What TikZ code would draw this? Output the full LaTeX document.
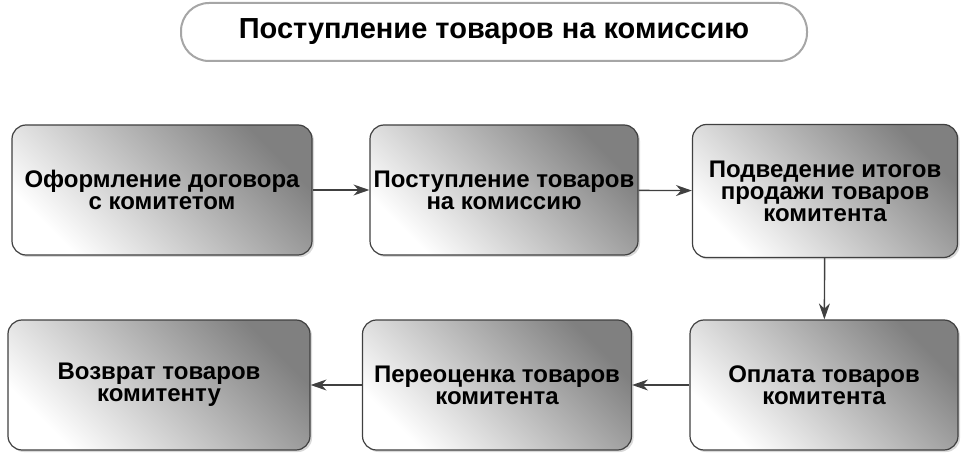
\documentclass[tikz,border=0pt]{standalone}
\usepackage{fontspec}
\setmainfont{Liberation Sans}
\usetikzlibrary{shadows,arrows.meta}
\tikzset{
  stage/.style={draw=black!75, line width=1.2pt, rounded corners=14pt,
    left color=white, middle color=white, right color=black!50, shading angle=135,
    drop shadow={shadow xshift=2pt, shadow yshift=-2pt, opacity=0.3},
    font=\bfseries\fontsize{24}{22}\selectfont, align=center},
  link/.style={-{Stealth[length=16pt,width=11pt]}, draw=black!75, line width=1.4pt}
}
\begin{document}
\begin{tikzpicture}[x=1pt, y=-1pt]
  \useasboundingbox (0,0) rectangle (972,465);

  \node (title) [draw=black!35, line width=2pt, rounded corners=28pt, fill=white,
    minimum width=626pt, minimum height=58pt,
    font=\bfseries\fontsize{29}{30}\selectfont] at (494,32) {Поступление товаров на комиссию};

  \node (contract) [stage, minimum width=300pt, minimum height=130pt] at (162,190) {Оформление договора\\с комитетом};
  \node (receipt) [stage, minimum width=268pt, minimum height=130pt] at (504,190) {Поступление товаров\\на комиссию};
  \node (totals) [stage, minimum width=265pt, minimum height=133pt] at (825,191) {Подведение итогов\\продажи товаров\\комитента};
  \node (payment) [stage, minimum width=268pt, minimum height=130pt] at (824,385) {Оплата товаров\\комитента};
  \node (reval) [stage, minimum width=269pt, minimum height=130pt] at (497,385) {Переоценка товаров\\комитента};
  \node (giveback) [stage, minimum width=302pt, minimum height=130pt] at (159,385) {Возврат товаров\\комитенту};

  \draw[link] (contract) -- (receipt);
  \draw[link] (receipt) -- (totals);
  \draw[link] (totals) -- (payment);
  \draw[link] (payment) -- (reval);
  \draw[link] (reval) -- (giveback);
\end{tikzpicture}
\end{document}
